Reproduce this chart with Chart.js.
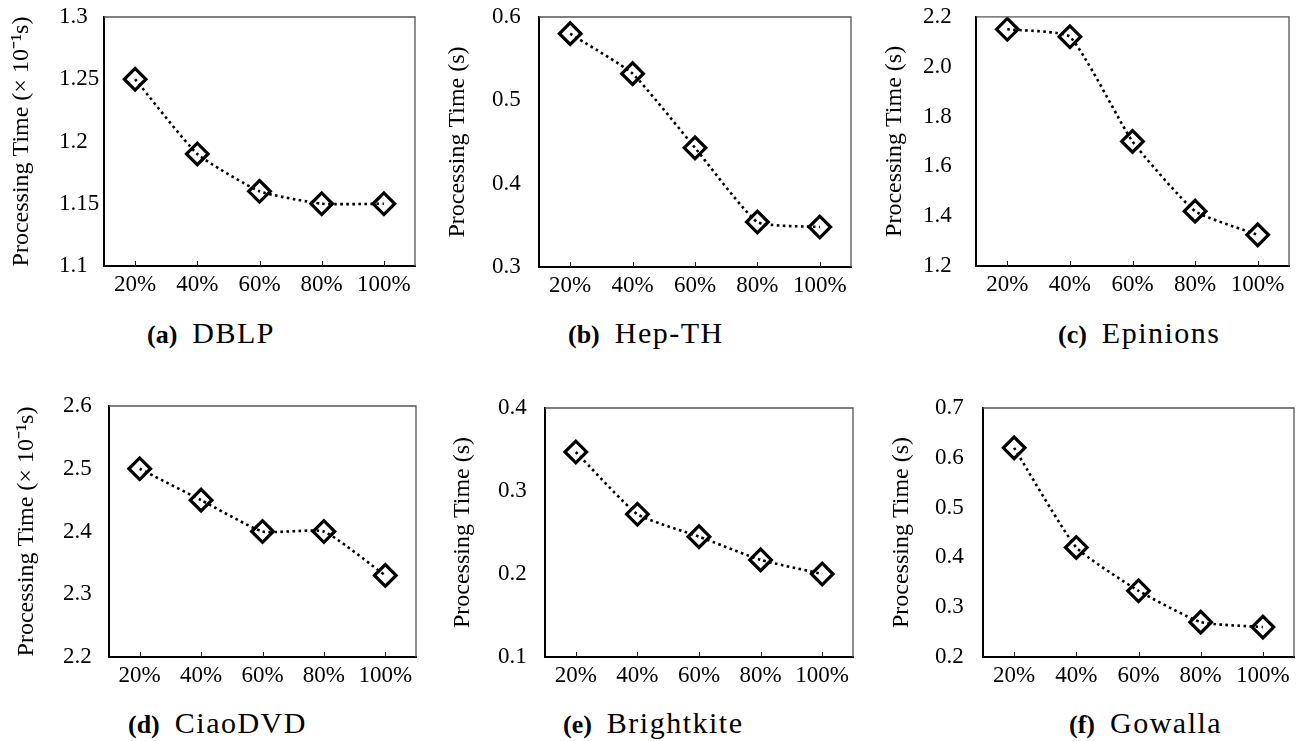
<!DOCTYPE html>
<html><head><meta charset="utf-8">
<script src="https://cdn.jsdelivr.net/npm/chart.js@4.4.1/dist/chart.umd.min.js"></script>
<style>
html,body{margin:0;padding:0;background:#fff;width:1311px;height:741px;overflow:hidden;position:relative;}
canvas{position:absolute;}
.cap{position:absolute;white-space:nowrap;line-height:1;color:#000;font-family:"Liberation Serif","Times New Roman",serif;font-size:30px;}
.cap b{font-size:26px;font-weight:bold;}
.cap span{letter-spacing:1.5px;margin-left:15px;}
</style>
</head><body>
<canvas id="ca" width="430" height="300" style="left:0px;top:0px"></canvas>
<canvas id="cb" width="437" height="300" style="left:430px;top:0px"></canvas>
<canvas id="cc" width="441" height="300" style="left:870px;top:0px"></canvas>
<canvas id="cd" width="430" height="320" style="left:0px;top:370px"></canvas>
<canvas id="ce" width="437" height="320" style="left:430px;top:370px"></canvas>
<canvas id="cf" width="441" height="320" style="left:870px;top:370px"></canvas>
<div class="cap" style="left:147px;top:318px"><b>(a)</b><span>DBLP</span></div>
<div class="cap" style="left:568px;top:318px"><b>(b)</b><span>Hep-TH</span></div>
<div class="cap" style="left:1058px;top:318px"><b>(c)</b><span>Epinions</span></div>
<div class="cap" style="left:128px;top:708px"><b>(d)</b><span>CiaoDVD</span></div>
<div class="cap" style="left:563px;top:708px"><b>(e)</b><span>Brightkite</span></div>
<div class="cap" style="left:1069px;top:708px"><b>(f)</b><span>Gowalla</span></div>
<script>
// ---- data ----
const categories = ['20%', '40%', '60%', '80%', '100%'];

const dblpTime       = [1.25, 1.19, 1.16, 1.15, 1.15];
const hepthTime      = [0.58, 0.532, 0.443, 0.354, 0.348];
const epinionsTime   = [2.15, 2.12, 1.70, 1.42, 1.325];
const ciaodvdTime    = [2.50, 2.45, 2.40, 2.40, 2.33];
const brightkiteTime = [0.347, 0.272, 0.245, 0.217, 0.20];
const gowallaTime    = [0.62, 0.42, 0.333, 0.27, 0.26];

const dblpTicks       = [1.1, 1.15, 1.2, 1.25, 1.3];
const dblpTickLabels  = ['1.1', '1.15', '1.2', '1.25', '1.3'];
const hepthTicks      = [0.3, 0.4, 0.5, 0.6];
const hepthTickLabels = ['0.3', '0.4', '0.5', '0.6'];
const epinionsTicks      = [1.2, 1.4, 1.6, 1.8, 2.0, 2.2];
const epinionsTickLabels = ['1.2', '1.4', '1.6', '1.8', '2.0', '2.2'];
const ciaodvdTicks      = [2.2, 2.3, 2.4, 2.5, 2.6];
const ciaodvdTickLabels = ['2.2', '2.3', '2.4', '2.5', '2.6'];
const brightkiteTicks      = [0.1, 0.2, 0.3, 0.4];
const brightkiteTickLabels = ['0.1', '0.2', '0.3', '0.4'];
const gowallaTicks      = [0.2, 0.3, 0.4, 0.5, 0.6, 0.7];
const gowallaTickLabels = ['0.2', '0.3', '0.4', '0.5', '0.6', '0.7'];

const titleScaled = 'Processing Time (\u00d7 10\u207b\u00b9s)';
const titleSec = 'Processing Time (s)';

// ---- drawing ----
const FONT = "'Liberation Serif', 'Times New Roman', serif";

const framePlugin = {
  id: 'frame',
  afterDraw(chart) {
    const {ctx, chartArea: {left, right, top, bottom}} = chart;
    const x = chart.scales.x;
    ctx.save();
    ctx.strokeStyle = '#555';
    ctx.lineWidth = 1.3;
    ctx.beginPath();
    ctx.moveTo(left, top); ctx.lineTo(right, top); ctx.lineTo(right, bottom);
    ctx.stroke();
    ctx.strokeStyle = '#222';
    ctx.lineWidth = 1;
    ctx.beginPath();
    x.ticks.forEach((t, i) => { const px = Math.round(x.getPixelForTick(i)) + 0.5; ctx.moveTo(px, bottom); ctx.lineTo(px, bottom - 5); });
    ctx.stroke();
    ctx.restore();
  }
};

function panel(id, values, ticks, tickLabels, title, g) {
  const ctx = document.getElementById(id);
  const W = ctx.width, H = ctx.height;
  new Chart(ctx, {
    type: 'line',
    data: {
      labels: categories,
      datasets: [{
        data: values,
        borderColor: '#000',
        borderWidth: 2.6,
        borderDash: [2.6, 3.4],
        tension: 0.15,
        fill: false,
        pointStyle: 'rectRot',
        pointRadius: 10.8,
        pointBorderWidth: 3.2,
        pointBorderColor: '#000',
        pointBackgroundColor: 'rgba(0,0,0,0)'
      }]
    },
    options: {
      responsive: false,
      animation: false,
      devicePixelRatio: 1,
      layout: { padding: { left: 0, right: W - g.plotR, top: g.plotT, bottom: 0 } },
      plugins: { legend: { display: false }, tooltip: { enabled: false } },
      scales: {
        x: {
          type: 'category',
          offset: true,
          grid: { display: false, drawTicks: false },
          border: { display: true, color: '#000', width: 2 },
          ticks: { color: '#000', font: { family: FONT, size: 23 }, padding: 5, maxRotation: 0, autoSkip: false },
          afterFit: s => { s.height = H - g.plotB; }
        },
        y: {
          position: 'left',
          weight: 0,
          min: ticks[0],
          max: ticks[ticks.length - 1],
          grid: { display: false, drawTicks: false },
          border: { display: true, color: '#000', width: 2 },
          afterBuildTicks: s => { s.ticks = ticks.map(v => ({ value: v })); },
          ticks: {
            color: '#000',
            font: { family: FONT, size: 23 },
            crossAlign: 'far',
            callback: (v, i) => tickLabels[i]
          },
          afterFit: s => { s.width = g.plotL - g.labelX; }
        },
        yt: {
          position: 'left',
          weight: 10,
          grid: { display: false, drawTicks: false },
          border: { display: false },
          ticks: { display: false },
          title: {
            display: true,
            text: title,
            color: '#000',
            font: { family: FONT, size: 24 },
            padding: { top: g.titleX - 14.4, bottom: 0 }
          },
          afterFit: s => { s.width = g.labelX; }
        }
      }
    },
    plugins: [framePlugin]
  });
}

panel('ca', dblpTime, dblpTicks, dblpTickLabels, titleScaled,
  { titleX: 22, labelX: 59, plotL: 104, plotR: 415, plotT: 17, plotB: 266 });
panel('cb', hepthTime, hepthTicks, hepthTickLabels, titleSec,
  { titleX: 28, labelX: 62, plotL: 109, plotR: 421, plotT: 17, plotB: 267 });
panel('cc', epinionsTime, epinionsTicks, epinionsTickLabels, titleSec,
  { titleX: 25, labelX: 53, plotL: 106, plotR: 419, plotT: 16, plotB: 266 });
panel('cd', ciaodvdTime, ciaodvdTicks, ciaodvdTickLabels, titleScaled,
  { titleX: 27, labelX: 63, plotL: 109, plotR: 421, plotT: 36, plotB: 287 });
panel('ce', brightkiteTime, brightkiteTicks, brightkiteTickLabels, titleSec,
  { titleX: 33, labelX: 68, plotL: 115, plotR: 428, plotT: 38, plotB: 287 });
panel('cf', gowallaTime, gowallaTicks, gowallaTickLabels, titleSec,
  { titleX: 32, labelX: 65, plotL: 113, plotR: 424, plotT: 38, plotB: 287 });
</script>
</body></html>
